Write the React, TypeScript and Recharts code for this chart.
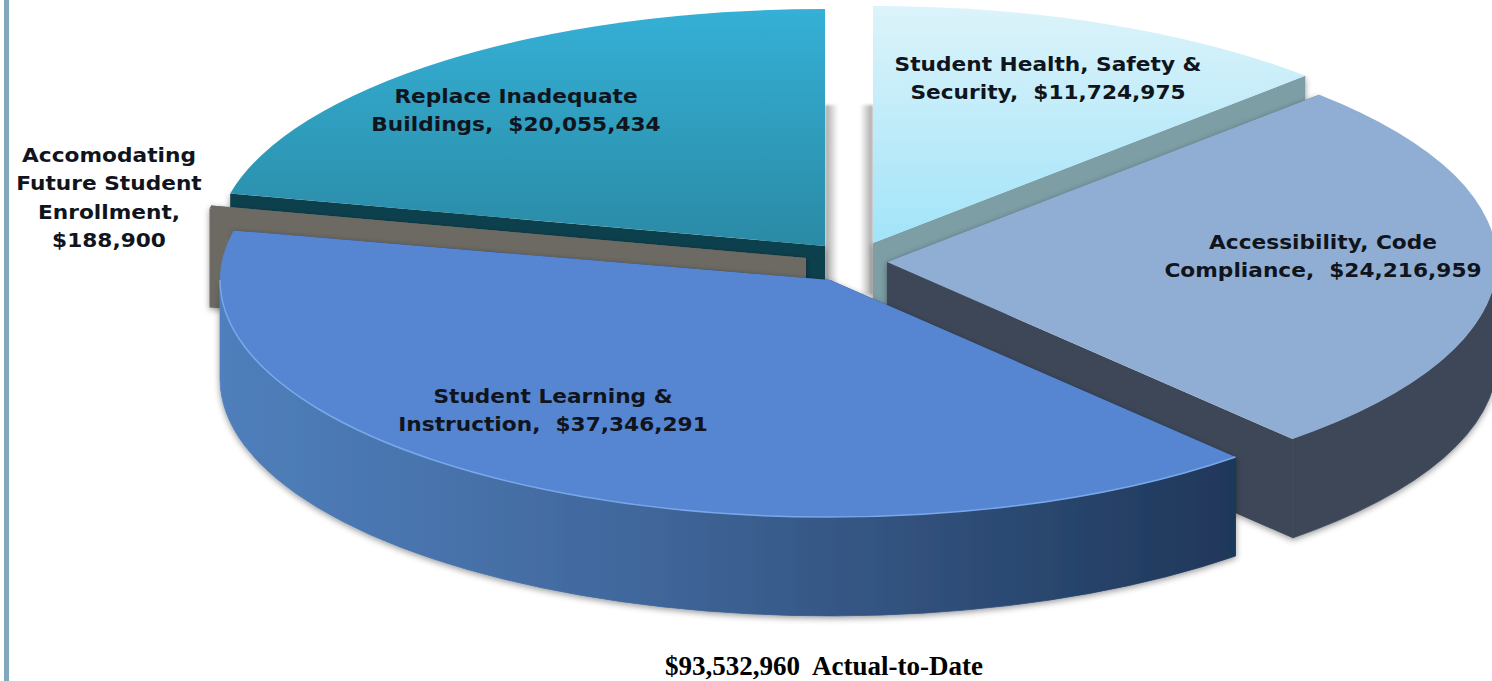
import React from "react";
import { PieChart, Pie, Cell } from "recharts";

const WIDTH = 1492;
const HEIGHT = 681;

const categories = [
  "Student Health, Safety & Security",
  "Accessibility, Code Compliance",
  "Student Learning & Instruction",
  "Accomodating Future Student Enrollment",
  "Replace Inadequate Buildings",
];
const amounts = [11724975, 24216959, 37346291, 188900, 20055434];
const totalLabel = "$93,532,960  Actual-to-Date";

// text lines above the amount line; the last entry is prefixed to the amount
const labelLines = [
  ["Student Health, Safety &", "Security,  "],
  ["Accessibility, Code", "Compliance,  "],
  ["Student Learning &", "Instruction,  "],
  ["Accomodating", "Future Student", "Enrollment,", ""],
  ["Replace Inadequate", "Buildings,  "],
];

const rows = categories.map((name, i) => ({ name, value: amounts[i] }));

// back to front, so nearer slices cover the walls of the ones behind
const paintOrder = [0, 1, 4, 3, 2];

const PIE_CX = 848;
const PIE_CY = 262;
const RADIUS = 610;
const SQUASH = 0.3885;
const DEPTH = 99;

type Look = {
  dx: number; dy: number;
  top: string; wall: string; cutWall: string;
  rimEdge?: string;
  labelX: number; labelY: number;
};

const looks: Look[] = [
  { dx: 25, dy: -19, top: "url(#healthTop)", wall: "#7c9ea4", cutWall: "#7c9ea4", labelX: 1048, labelY: 71 },
  { dx: 39, dy: 0, top: "#90aed4", wall: "#3d4758", cutWall: "#3d4758", labelX: 1323, labelY: 249 },
  { dx: -18, dy: 18, top: "#5686d2", wall: "url(#learningWall)", cutWall: "#1f3759", rimEdge: "#79a8ea", labelX: 553, labelY: 403 },
  { dx: -42, dy: -4, top: "#6c6a64", wall: "#6c6a64", cutWall: "#6c6a64", labelX: 109, labelY: 162 },
  { dx: -23, dy: -16, top: "url(#buildingsTop)", wall: "#0c3f4e", cutWall: "#0c3f4e", labelX: 516, labelY: 103 },
];

const money = (v: number) => "$" + v.toLocaleString("en-US");
const rad = (deg: number) => (deg * Math.PI) / 180;

function slicePaths(cx: number, cy: number, r: number, start: number, end: number) {
  const ry = r * SQUASH;
  const at = (deg: number, drop = 0) =>
    `${(cx + r * Math.cos(rad(deg))).toFixed(1)} ${(cy - ry * Math.sin(rad(deg)) + drop).toFixed(1)}`;
  const large = Math.abs(start - end) > 180 ? 1 : 0;
  const top = `M${cx} ${cy} L${at(start)} A${r} ${ry} 0 ${large} 1 ${at(end)} Z`;
  const cut = (deg: number) =>
    `M${cx} ${cy} L${at(deg)} L${at(deg, DEPTH)} L${cx} ${cy + DEPTH} Z`;

  // only the stretch of rim on the near half of the ellipse shows
  let rim = "";
  let edge = "";
  for (const [lo, hi] of [[-180, 0], [-540, -360]]) {
    const a = Math.min(start, hi);
    const b = Math.max(end, lo);
    if (a > b) {
      edge = `M${at(a)} A${r} ${ry} 0 0 1 ${at(b)}`;
      rim = `${edge} L${at(b, DEPTH)} A${r} ${ry} 0 0 0 ${at(a, DEPTH)} Z`;
    }
  }
  return { top, cuts: [cut(start), cut(end)], rim, edge };
}

function sliceShape(only: number) {
  return (props: any) => {
    const idx = categories.indexOf(props.name ?? props.payload?.name);
    if (idx !== only) return null;
    const look = looks[idx];
    const { top, cuts, rim, edge } = slicePaths(
      props.cx + look.dx,
      props.cy + look.dy,
      props.outerRadius,
      props.startAngle,
      props.endAngle
    );
    return (
      <g>
        <g filter="url(#softDrop)">
          {cuts.map((d, i) => (
            <path key={i} d={d} fill={look.cutWall} />
          ))}
          {rim && <path d={rim} fill={look.wall} stroke={look.wall} strokeWidth={0.8} />}
        </g>
        <path d={top} fill={look.top} />
        {look.rimEdge && <path d={edge} fill="none" stroke={look.rimEdge} strokeWidth={1.5} />}
      </g>
    );
  };
}

function sliceLabel(only: number) {
  return (props: any) => {
    if (props.index !== only) return null;
    const look = looks[only];
    const lines = labelLines[only].map((line, i, all) =>
      i === all.length - 1 ? line + money(amounts[only]) : line
    );
    return (
      <text
        transform={`translate(${look.labelX} ${look.labelY}) scale(1.085 1)`}
        textAnchor="middle"
        fontFamily="'DejaVu Sans', Verdana, sans-serif"
        fontWeight={700}
        fontSize={20}
        fill="#10141c"
        style={{ whiteSpace: "pre" }}
      >
        {lines.map((line, i) => (
          <tspan key={i} x={0} dy={i === 0 ? 0 : 28.5}>
            {line}
          </tspan>
        ))}
      </text>
    );
  };
}

export default function App() {
  const gapLeft = PIE_CX + looks[4].dx;
  const gapRight = PIE_CX + looks[0].dx;
  return (
    <div style={{ position: "absolute", left: 0, top: 0, width: WIDTH, height: HEIGHT, background: "#fff" }}>
      <div style={{ position: "absolute", left: 4, top: 0, width: 5, height: HEIGHT, background: "#7fa8bb" }} />
      <PieChart width={WIDTH} height={HEIGHT} margin={{ top: 0, right: 0, bottom: 0, left: 0 }}>
        <defs>
          <linearGradient id="healthTop" x1="0" y1="0" x2="0" y2="1">
            <stop offset="0" stopColor="#dcf3fa" />
            <stop offset="1" stopColor="#a2e4f9" />
          </linearGradient>
          <linearGradient id="buildingsTop" x1="0" y1="0" x2="0" y2="1">
            <stop offset="0" stopColor="#35b0d6" />
            <stop offset="1" stopColor="#2a8aa5" />
          </linearGradient>
          <linearGradient id="learningWall" x1="0" y1="0" x2="1" y2="0">
            <stop offset="0" stopColor="#4f7fbc" />
            <stop offset="0.4" stopColor="#41689d" />
            <stop offset="1" stopColor="#1f3759" />
          </linearGradient>
          <linearGradient id="gapShadeLeft" x1="0" y1="0" x2="1" y2="0">
            <stop offset="0" stopColor="#a4a4a4" />
            <stop offset="1" stopColor="#fff" />
          </linearGradient>
          <linearGradient id="gapShadeRight" x1="0" y1="0" x2="1" y2="0">
            <stop offset="0" stopColor="#fff" />
            <stop offset="1" stopColor="#a4a4a4" />
          </linearGradient>
          <filter id="softDrop" x="-5%" y="-5%" width="110%" height="115%">
            <feDropShadow dx="0" dy="2" stdDeviation="3" floodColor="#000" floodOpacity="0.4" />
          </filter>
          <filter id="gapBlur" x="-30%" y="-5%" width="160%" height="110%">
            <feGaussianBlur stdDeviation="1.5" />
          </filter>
        </defs>
        {/* soft shading on the white gap between the two upper slices */}
        <rect x={gapLeft} y={105} width={13} height={190} fill="url(#gapShadeLeft)" filter="url(#gapBlur)" />
        <rect x={gapRight - 13} y={105} width={13} height={190} fill="url(#gapShadeRight)" filter="url(#gapBlur)" />
        {paintOrder.map((idx) => (
          <Pie
            key={idx}
            data={rows}
            dataKey="value"
            nameKey="name"
            cx={PIE_CX}
            cy={PIE_CY}
            innerRadius={0}
            outerRadius={RADIUS}
            startAngle={90}
            endAngle={-270}
            stroke="none"
            labelLine={false}
            label={sliceLabel(idx)}
            shape={sliceShape(idx)}
            isAnimationActive={false}
          >
            {rows.map((r) => (
              <Cell key={r.name} />
            ))}
          </Pie>
        ))}
        <text
          x={824}
          y={675}
          textAnchor="middle"
          fontFamily="'Liberation Serif', serif"
          fontWeight={700}
          fontSize={27}
          fill="#000"
          style={{ whiteSpace: "pre" }}
        >
          {totalLabel}
        </text>
      </PieChart>
    </div>
  );
}
